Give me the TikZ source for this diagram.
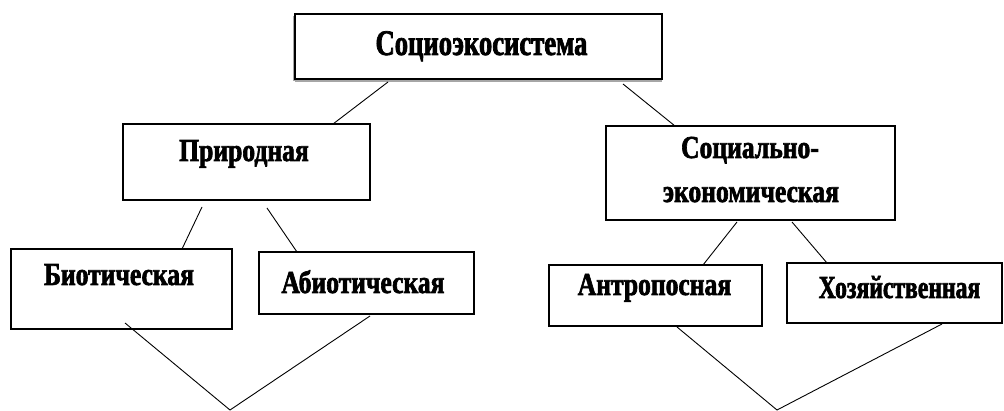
\documentclass[tikz,border=0pt]{standalone}
\usepackage{fontspec}
\usetikzlibrary{calc}
\setmainfont{Liberation Serif}
\newfontfamily\lblfont[FakeStretch=0.8,FakeBold=2]{Liberation Serif}
\newfontfamily\narrowfont[FakeStretch=0.74,FakeBold=2]{Liberation Serif}
\begin{document}
\begin{tikzpicture}[x=1pt,y=-1pt,
  box/.style={draw=black, line width=1.3pt, fill=white, inner sep=0pt, outer sep=0pt},
  lbl/.style={anchor=base, inner sep=0pt, font=\lblfont\bfseries\fontsize{32}{36}\selectfont},
  narrowlbl/.style={lbl, font=\narrowfont\bfseries\fontsize{32}{36}\selectfont},
  toplbl/.style={lbl, font=\narrowfont\bfseries\fontsize{36}{40}\selectfont},
  con/.style={draw=black, line width=0.9pt}]
\useasboundingbox (0,0) rectangle (1004,411);
% boxes
\fill[gray!70] (293,16) rectangle (297,81);
\fill[gray!70] (295,79) rectangle (662,82);
\node[box, minimum width=367pt, minimum height=65pt] (soc) at (478.5,46.5) {};
\node[box, minimum width=247pt, minimum height=76pt] (prir) at (246.5,162) {};
\node[box, minimum width=289pt, minimum height=94pt] (sec) at (750.5,173) {};
\node[box, minimum width=221pt, minimum height=80pt] (bio) at (121.5,289) {};
\node[box, minimum width=215pt, minimum height=62pt] (abio) at (366.5,283) {};
\node[box, minimum width=213pt, minimum height=61pt] (antr) at (655.5,295.5) {};
\node[box, minimum width=215pt, minimum height=60pt] (hoz) at (894.5,293) {};
% labels
\node[toplbl] (socT) at (481.5,55) {Социоэкосистема};
\node[lbl] (prirT) at (244,161) {Природная};
\node[lbl] (secT1) at (750,158) {Социально-};
\node[lbl] (secT2) at (751,202) {экономическая};
\node[lbl] (bioT) at (119,285) {Биотическая};
\node[lbl] (abioT) at (363,293) {Абиотическая};
\node[lbl] (antrT) at (654.5,295) {Антропосная};
\node[narrowlbl] (hozT) at (899.5,298) {Хозяйственная};
% free ends
\coordinate (s1) at (388,82);
\coordinate (s2) at (623,84);
\coordinate (p1) at (202,207);
\coordinate (p2) at (267,208);
\coordinate (e1) at (737,222);
\coordinate (e2) at (792,222);
\coordinate (b1) at (125,323);
\coordinate (a1) at (370,316);
\coordinate (n1) at (677,327);
\coordinate (h1) at (942,324);
\coordinate (apexL) at (230,410);
\coordinate (apexR) at (777,410);
% connectors
\draw[con] (s1) -- ($(prir.north west)+(210,0)$);
\draw[con] (s2) -- ($(sec.north west)+(69,0)$);
\draw[con] (p1) -- ($(bio.north west)+(171,0)$);
\draw[con] (p2) -- ($(abio.north west)+(38,0)$);
\draw[con] (e1) -- ($(antr.north west)+(154,0)$);
\draw[con] (e2) -- ($(hoz.north west)+(40,0)$);
\draw[con] (b1) -- (apexL) -- (a1);
\draw[con] (n1) -- (apexR) -- (h1);
\end{tikzpicture}
\end{document}
